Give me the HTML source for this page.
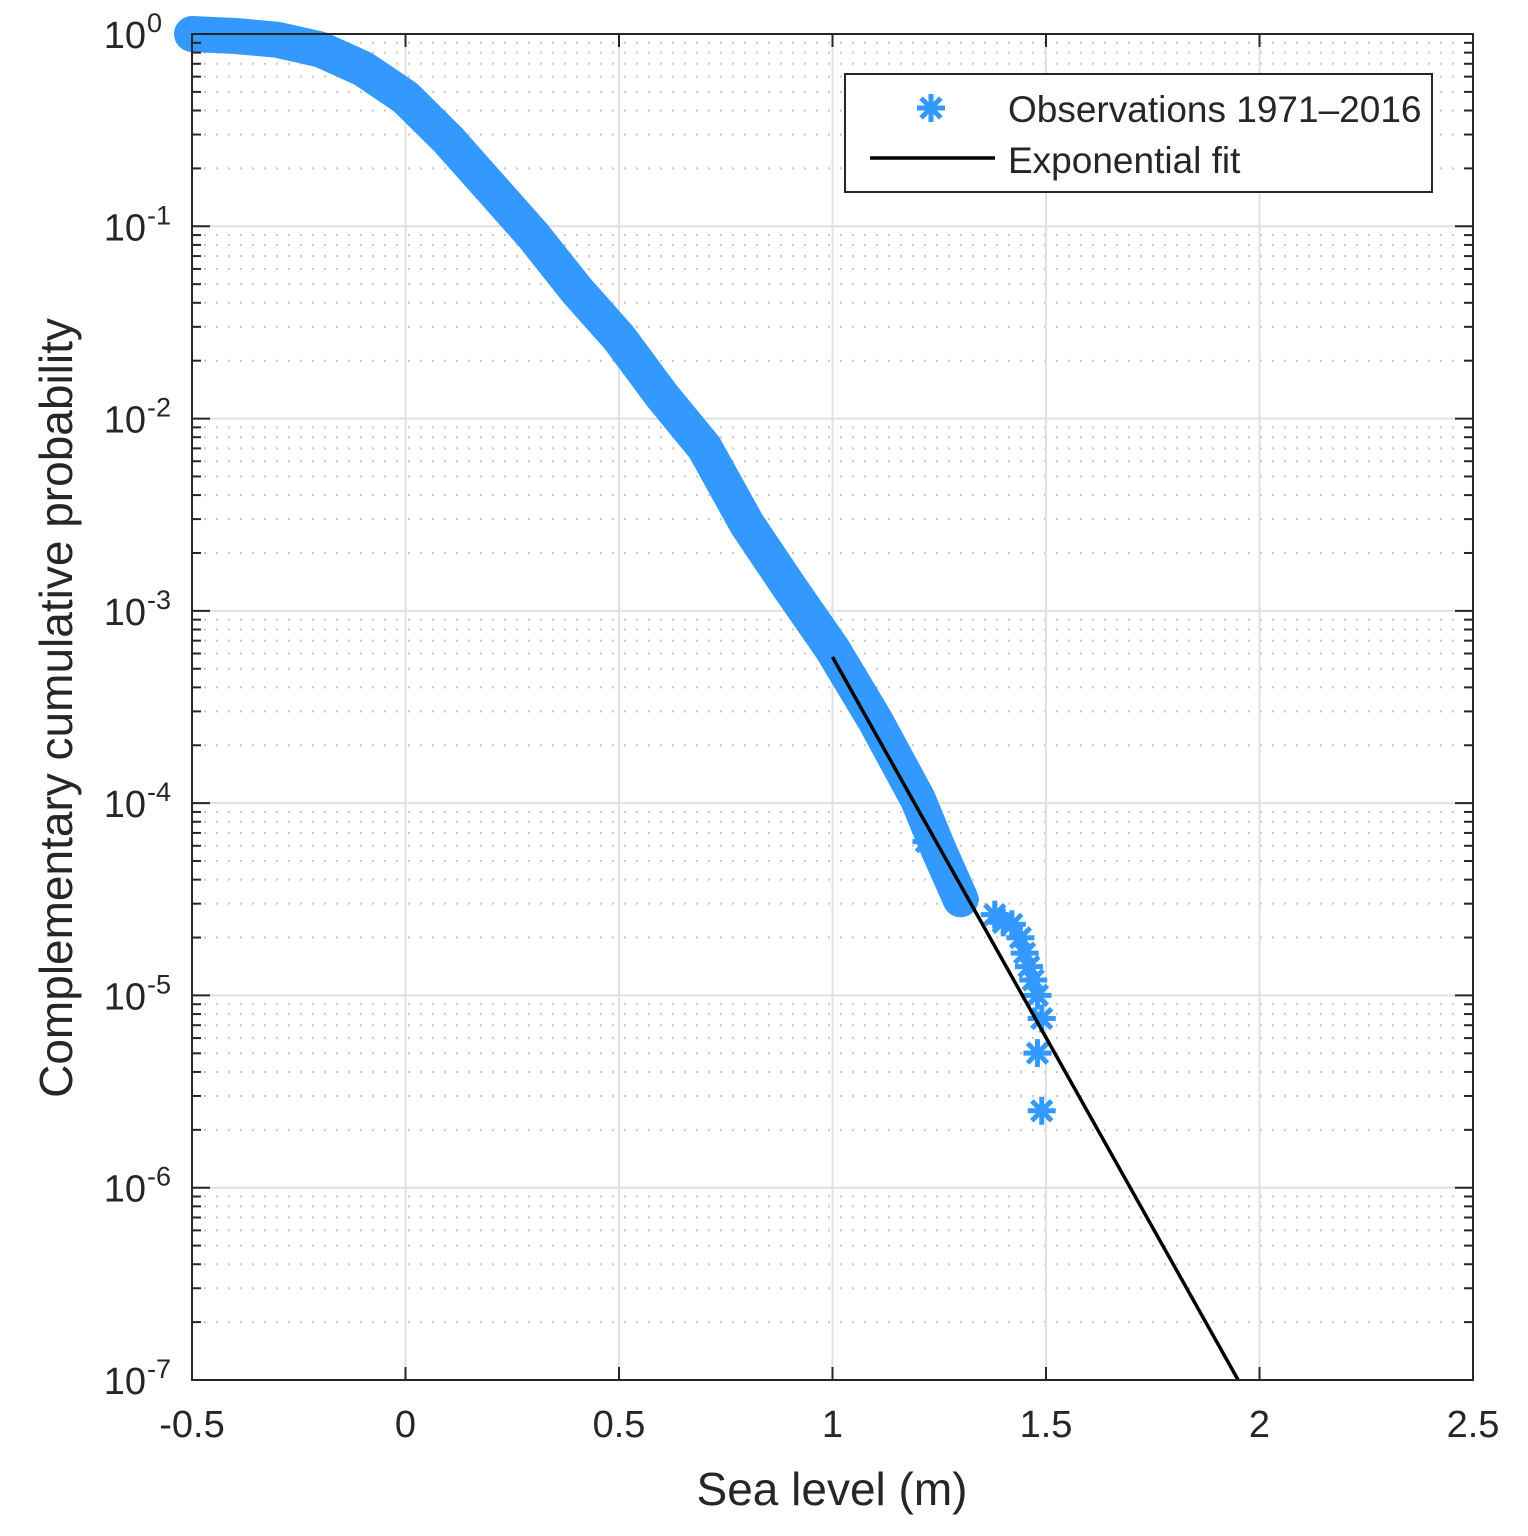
<!DOCTYPE html>
<html><head><meta charset="utf-8"><style>
body{margin:0;background:#fff}
svg text{font-family:"Liberation Sans",Arial,sans-serif;fill:#262626}
</style></head><body>
<svg id="c" width="1528" height="1531" viewBox="0 0 1528 1531" xmlns="http://www.w3.org/2000/svg"></svg>
<script>
const obsX=[-0.5,-0.4,-0.3,-0.2,-0.1,0,0.1,0.2,0.3,0.4,0.5,0.6,0.7,0.8,0.9,1.0,1.1,1.2,1.25,1.3];
const obsLogY=[0,-0.01,-0.03,-0.08,-0.18,-0.33,-0.55,-0.8,-1.05,-1.33,-1.58,-1.88,-2.15,-2.55,-2.88,-3.2,-3.57,-3.98,-4.25,-4.5];
const tailX=[1.22,1.26,1.28,1.31,1.38,1.40,1.42,1.44,1.45,1.46,1.47,1.48,1.49,1.48,1.49];
const tailLogY=[-4.2,-4.35,-4.42,-4.5,-4.58,-4.62,-4.63,-4.7,-4.78,-4.85,-4.92,-5.0,-5.12,-5.3,-5.6];
const fitX=[1.0,1.95];
const fitLogY=[-3.24,-7];
const xTicks=[-0.5,0,0.5,1,1.5,2,2.5];
const xTickLabels=["-0.5","0","0.5","1","1.5","2","2.5"];
const yTicks=[0,-1,-2,-3,-4,-5,-6,-7];

const L=192,R=1473,T=34,B=1380;
const X=v=>L+(v+0.5)/3*(R-L);
const Y=l=>T+(-l)/7*(B-T);
const svg=document.getElementById('c');
const NS='http://www.w3.org/2000/svg';
function mk(tag,attrs,parent){const e=document.createElementNS(NS,tag);for(const k in attrs)e.setAttribute(k,attrs[k]);(parent||svg).appendChild(e);return e;}

const grid=mk('g',{});


for(let d=0;d<7;d++){for(let m=2;m<=9;m++){const y=Y(-d-1+Math.log10(m));mk('line',{x1:L,x2:R,y1:y,y2:y,stroke:'#c8c8c8','stroke-width':2,'stroke-dasharray':'2 10'},grid);}}
yTicks.forEach(t=>mk('line',{x1:L,x2:R,y1:Y(t),y2:Y(t),stroke:'#e0e0e0','stroke-width':2},grid));
xTicks.forEach(t=>mk('line',{x1:X(t),x2:X(t),y1:T,y2:B,stroke:'#e0e0e0','stroke-width':2},grid));

let pts=obsX.map((x,i)=>X(x)+','+Y(obsLogY[i])).join(' ');
const band=mk('polyline',{points:pts,fill:'none',stroke:'#3399ff','stroke-width':36,'stroke-linejoin':'round','stroke-linecap':'round'});


function star(cx,cy,r,p){const g=mk('g',{stroke:'#3399ff','stroke-width':5},p);
for(let a=0;a<4;a++){const t=a*Math.PI/4;mk('line',{x1:cx-r*Math.cos(t),y1:cy-r*Math.sin(t),x2:cx+r*Math.cos(t),y2:cy+r*Math.sin(t)},g);}return g;}
tailX.forEach((x,i)=>{const s=star(X(x),Y(tailLogY[i]),14);

});

const fit=mk('line',{x1:X(fitX[0]),y1:Y(fitLogY[0]),x2:X(fitX[1]),y2:Y(fitLogY[1]),stroke:'#000','stroke-width':3.5});



const ax=mk('rect',{x:L,y:T,width:R-L,height:B-T,fill:'none',stroke:'#262626','stroke-width':2});


xTicks.forEach((t,i)=>{mk('line',{x1:X(t),x2:X(t),y1:B,y2:B-13,stroke:'#262626','stroke-width':2});mk('line',{x1:X(t),x2:X(t),y1:T,y2:T+13,stroke:'#262626','stroke-width':2});
const tx=mk('text',{x:X(t),y:B+57,'font-size':38,'text-anchor':'middle'});tx.textContent=xTickLabels[i];

});
for(let d=0;d<7;d++){for(let m=2;m<=9;m++){const y=Y(-d-1+Math.log10(m));mk('line',{x1:L,x2:L+9,y1:y,y2:y,stroke:'#262626','stroke-width':2});mk('line',{x1:R,x2:R-9,y1:y,y2:y,stroke:'#262626','stroke-width':2});}}
yTicks.forEach(t=>{const y=Y(t);mk('line',{x1:L,x2:L+18,y1:y,y2:y,stroke:'#262626','stroke-width':2});mk('line',{x1:R,x2:R-18,y1:y,y2:y,stroke:'#262626','stroke-width':2});
const tx=mk('text',{x:146,y:y+14,'font-size':38,'text-anchor':'end'});tx.textContent='10';


const sup=mk('text',{x:147,y:y-2,'font-size':27,'text-anchor':'start'});sup.textContent=String(t);});

const xl=mk('text',{x:832,y:1505,'font-size':46,'text-anchor':'middle'});xl.textContent='Sea level (m)';


const yl=mk('text',{x:0,y:0,'font-size':46,'text-anchor':'middle',transform:'translate(72,708) rotate(-90)'});yl.textContent='Complementary cumulative probability';



const lg=mk('g',{});


mk('rect',{x:845,y:74,width:587,height:118,fill:'#fff',stroke:'#262626','stroke-width':2},lg);
star(931,108,14,lg);
mk('line',{x1:870,x2:995,y1:158,y2:158,stroke:'#000','stroke-width':3.5},lg);
const t1=mk('text',{x:1008,y:122,'font-size':37},lg);t1.textContent='Observations 1971–2016';


const t2=mk('text',{x:1008,y:173,'font-size':37},lg);t2.textContent='Exponential fit';


</script>
</body></html>
